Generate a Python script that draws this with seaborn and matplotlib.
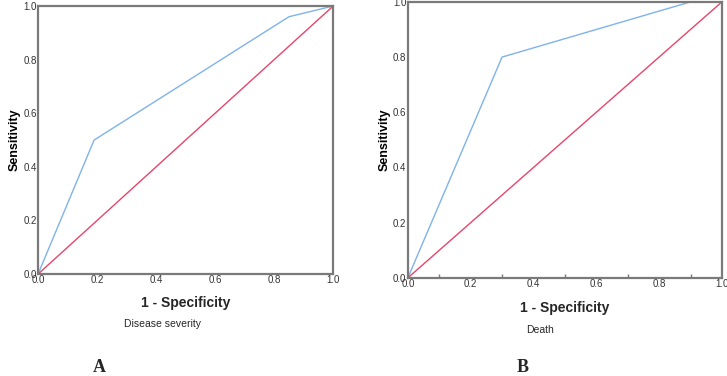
import matplotlib
matplotlib.use('Agg')
import matplotlib.pyplot as plt
import seaborn as sns
import pandas as pd

sns.set_theme(style='white')
plt.rcParams['font.family'] = ['Liberation Sans', 'DejaVu Sans']

# ROC curve points
fpr_a = [0.0, 0.19, 0.85, 1.0]
tpr_a = [0.0, 0.50, 0.96, 1.0]
fpr_b = [0.0, 0.30, 0.90, 1.0]
tpr_b = [0.0, 0.80, 1.00, 1.0]
ref_line = [0.0, 1.0]
tick_vals = [0.0, 0.2, 0.4, 0.6, 0.8, 1.0]
minor_b = [0.1, 0.3, 0.5, 0.7, 0.9]
subtitles = ['Disease severity', 'Death']
panel_tags = ['A', 'B']

ROC_BLUE = '#7fb3ea'
REF_RED = '#e8456a'
FRAME = '#7a7a7a'

fig = plt.figure(figsize=(7.27, 3.76), dpi=100)
ax_a = fig.add_axes([0.0523, 0.271, 0.406, 0.713])
ax_b = fig.add_axes([0.561, 0.261, 0.432, 0.734])

panels = [(ax_a, fpr_a, tpr_a), (ax_b, fpr_b, tpr_b)]
for ax, fx, ty in panels:
    df = pd.DataFrame({'fpr': fx, 'tpr': ty})
    sns.lineplot(data=df, x='fpr', y='tpr', ax=ax, color=ROC_BLUE, lw=1.0,
                 estimator=None, sort=False)
    sns.lineplot(x=ref_line, y=ref_line, ax=ax, color=REF_RED, lw=1.0,
                 estimator=None)
    ax.set_xlim(0, 1)
    ax.set_ylim(0, 1)
    ax.set_xticks(tick_vals)
    ax.set_yticks(tick_vals)
    ax.set_xticklabels([f'{v:.1f}' for v in tick_vals], fontsize=7, color='#333333')
    ax.set_yticklabels([f'{v:.1f}' for v in tick_vals], fontsize=7, color='#333333')
    ax.set_xlabel('')
    ax.set_ylabel('Sensitivity', fontsize=9, fontweight='bold', color='black', labelpad=2)
    for sp in ax.spines.values():
        sp.set_visible(True)
        sp.set_color(FRAME)
        sp.set_linewidth(1.6)
    ax.tick_params(axis='both', which='major', length=0, pad=1)

# panel B has small inward ticks at the odd tenths of the bottom axis
ax_b.set_xticks(minor_b, minor=True)
ax_b.tick_params(axis='x', which='minor', bottom=True, direction='in',
                 length=3, color=FRAME, width=1)

# x-axis titles, subtitles and panel tags
fig.text(186 / 727, 1 - 303 / 376, '1 - Specificity', fontsize=10, fontweight='bold',
         ha='center', va='center')
fig.text(163 / 727, 1 - 324 / 376, subtitles[0], fontsize=7.5, ha='center', va='center')
fig.text(99 / 727, 1 - 367 / 376, panel_tags[0], fontsize=13, fontweight='bold',
         family='Liberation Serif', ha='center', va='center')

fig.text(565 / 727, 1 - 308 / 376, '1 - Specificity', fontsize=10, fontweight='bold',
         ha='center', va='center')
fig.text(540 / 727, 1 - 330 / 376, subtitles[1], fontsize=7.5, ha='center', va='center')
fig.text(523 / 727, 1 - 367 / 376, panel_tags[1], fontsize=13, fontweight='bold',
         family='Liberation Serif', ha='center', va='center')

fig.savefig('out.png', dpi=100, facecolor='white')
